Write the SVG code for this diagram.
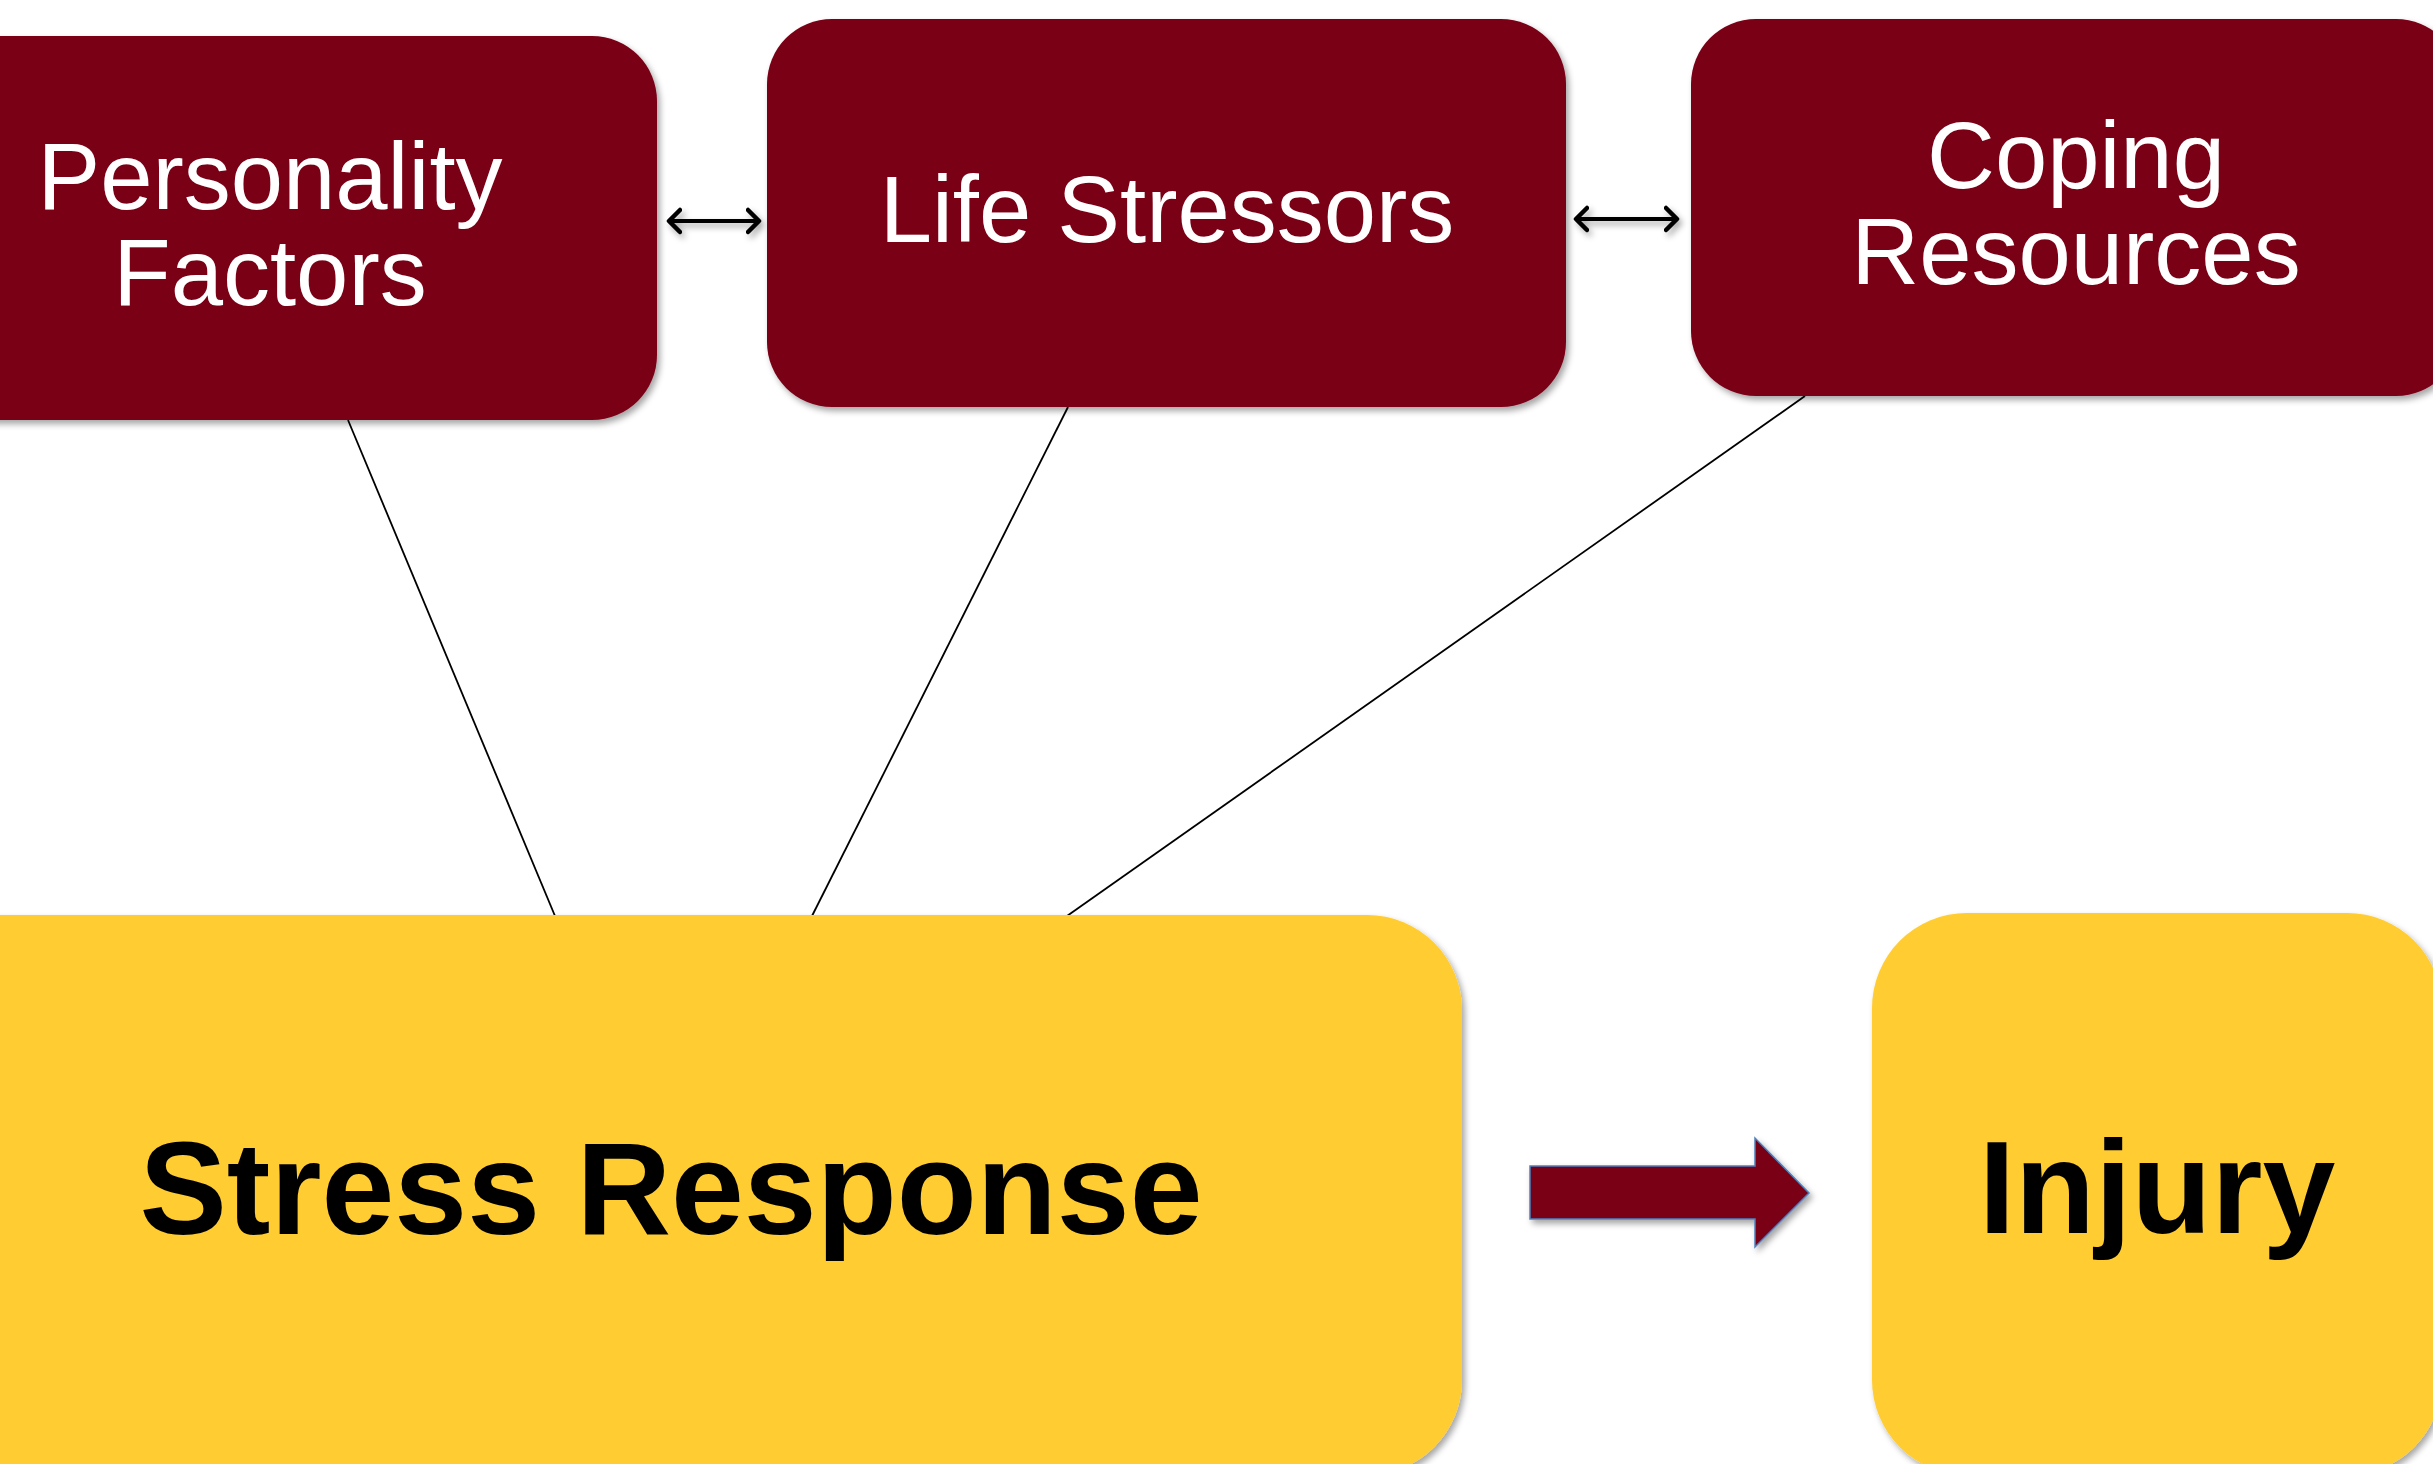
<svg xmlns="http://www.w3.org/2000/svg" width="2433" height="1464" viewBox="0 0 2433 1464">
<style>
.maroon{fill:#7A0019;}
.gold{fill:#FFCC33;}
.tw{font-family:"Liberation Sans",Arial,sans-serif;font-size:94px;fill:#FFFFFF;text-anchor:middle;}
.tb{font-family:"Liberation Sans",Arial,sans-serif;font-size:131px;font-weight:bold;fill:#000000;text-anchor:middle;}
.link{stroke:#000;stroke-width:1.8;fill:none;}
.dbl{stroke:#000;stroke-width:4;fill:none;}
</style>
<defs>
<filter id="sh" x="-10%" y="-10%" width="130%" height="130%">
<feDropShadow dx="3" dy="4" stdDeviation="3" flood-color="#000" flood-opacity="0.35"/>
</filter>
<filter id="shu" filterUnits="userSpaceOnUse" x="0" y="0" width="2433" height="1464">
<feDropShadow dx="3" dy="4" stdDeviation="3" flood-color="#000" flood-opacity="0.35"/>
</filter>
<marker id="chev" viewBox="0 0 16 28" refX="13" refY="14" markerWidth="16" markerHeight="28" markerUnits="userSpaceOnUse" orient="auto-start-reverse">
<path d="M2,3 L13,14 L2,25" stroke="#000" stroke-width="4.5" fill="none" stroke-linejoin="round" stroke-linecap="round"/>
</marker>
</defs>
<rect width="2433" height="1464" fill="#FFFFFF"/>
<g id="connectors">
<line class="link" x1="348" y1="420" x2="555" y2="916"/>
<line class="link" x1="1068" y1="407" x2="812" y2="916"/>
<line class="link" x1="1805" y1="396" x2="1067" y2="916"/>
<g filter="url(#shu)">
<line class="dbl" x1="669" y1="221" x2="759" y2="221" marker-start="url(#chev)" marker-end="url(#chev)"/>
<line class="dbl" x1="1576" y1="219" x2="1677" y2="219" marker-start="url(#chev)" marker-end="url(#chev)"/>
</g>
<path id="bigArrow" d="M1530,1166 L1755,1166 L1755,1138 L1809,1193 L1755,1247 L1755,1219 L1530,1219 Z" fill="#7A0019" stroke="#4F81BD" stroke-width="1.5" filter="url(#sh)"/>
</g>
<g id="personality">
<rect class="maroon" x="-117" y="36" width="774" height="384" rx="65" ry="65" filter="url(#sh)"/>
<text class="tw" x="270" y="209">Personality</text>
<text class="tw" x="270" y="305">Factors</text>
</g>
<g id="life">
<rect class="maroon" x="767" y="19" width="799" height="388" rx="65" ry="65" filter="url(#sh)"/>
<text class="tw" x="1167" y="242">Life Stressors</text>
</g>
<g id="coping">
<rect class="maroon" x="1691" y="19" width="770" height="377" rx="65" ry="65" filter="url(#sh)"/>
<text class="tw" x="2076" y="188">Coping</text>
<text class="tw" x="2076" y="284">Resources</text>
</g>
<g id="stress">
<rect class="gold" x="-120" y="915" width="1582" height="560" rx="95" ry="95" filter="url(#sh)"/>
<text class="tb" x="671" y="1234">Stress Response</text>
</g>
<g id="injury">
<rect class="gold" x="1872" y="913" width="570" height="562" rx="95" ry="95" filter="url(#sh)"/>
<text class="tb" x="2157" y="1233">Injury</text>
</g>
</svg>
